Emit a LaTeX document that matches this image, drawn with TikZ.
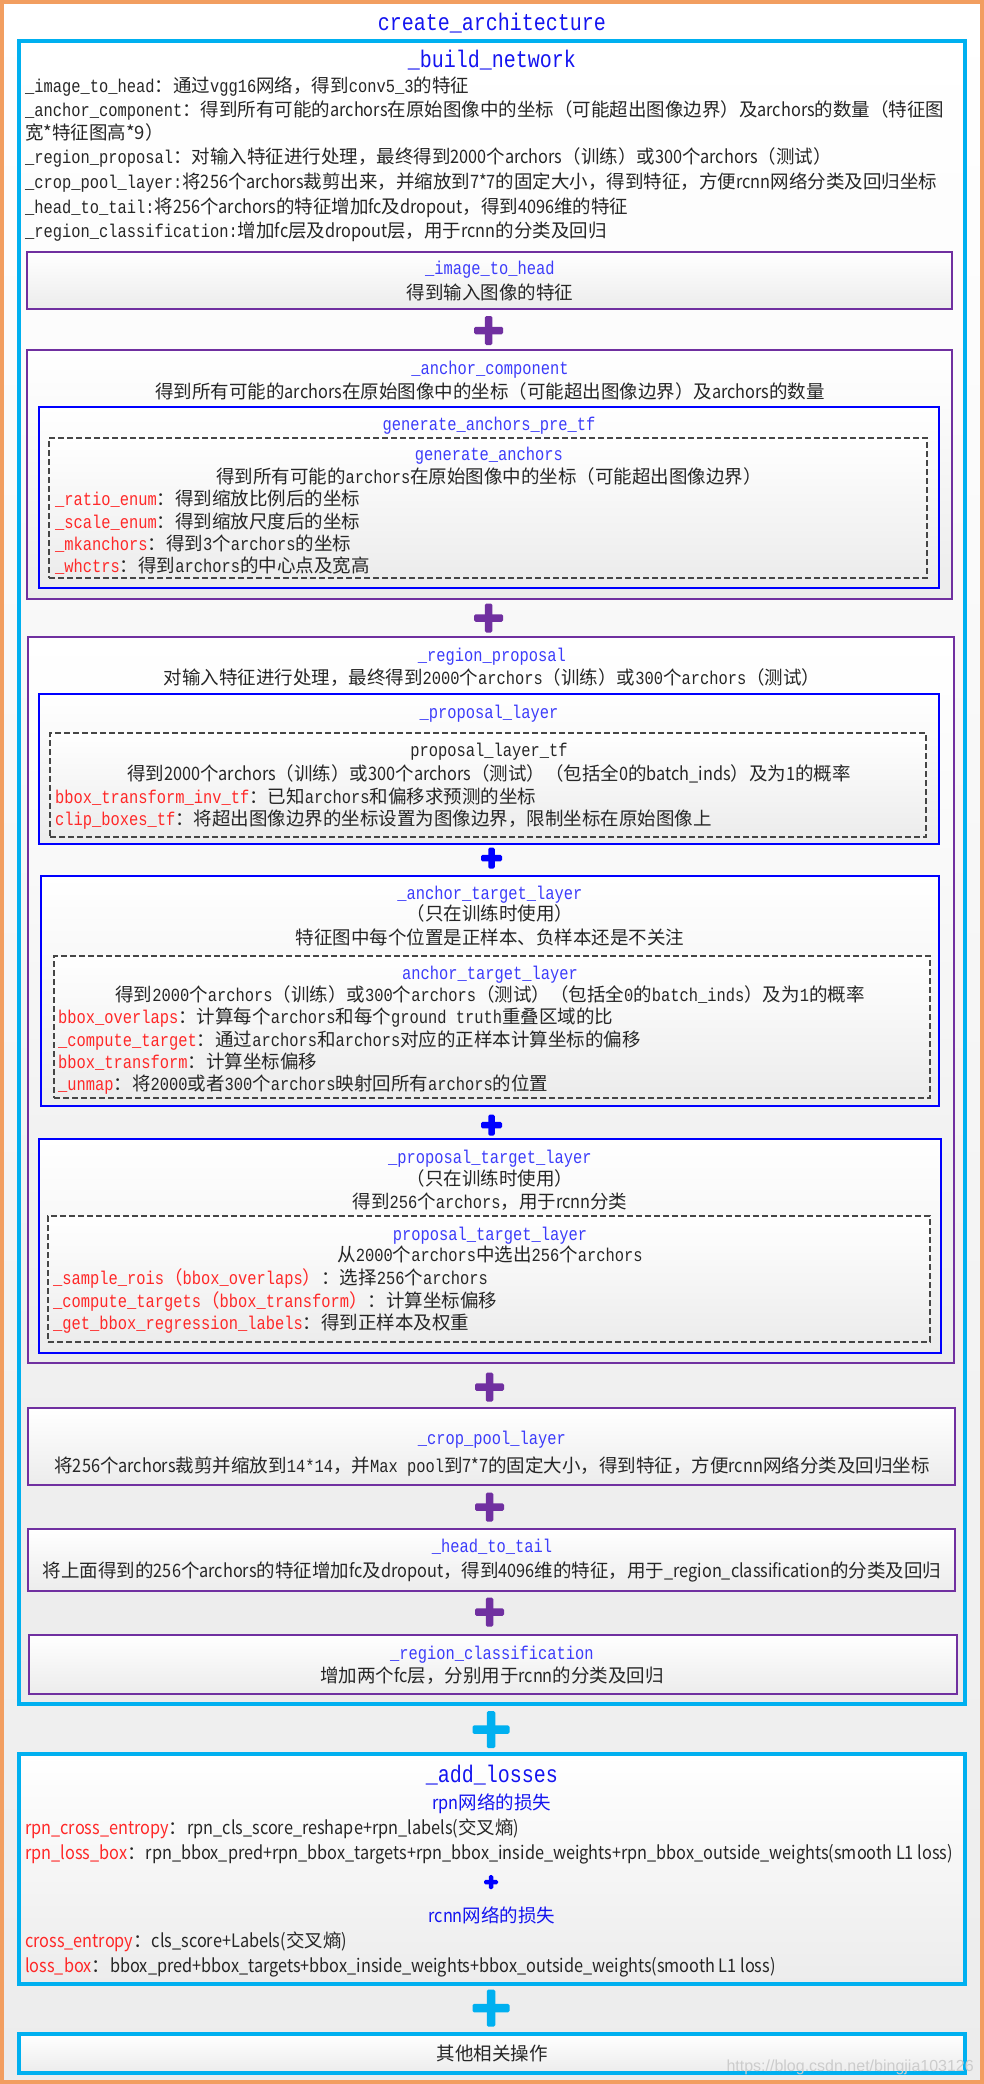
\documentclass[tikz,border=0pt]{standalone}
\usepackage{fontspec}
\usetikzlibrary{fit}
\setmainfont{Noto Sans CJK SC}
\newfontfamily\mon[FakeStretch=0.8333]{Liberation Mono}
\newfontfamily\snl[FakeStretch=0.88]{Noto Sans CJK SC}
\newfontfamily\wmfont{Liberation Sans}
\definecolor{orangeC}{RGB}{242,158,96}
\definecolor{cyanC}{RGB}{0,176,240}
\definecolor{purpleC}{RGB}{112,48,160}
\definecolor{blueC}{RGB}{0,0,255}
\definecolor{titleBlue}{RGB}{20,20,240}
\definecolor{subBlue}{RGB}{60,60,250}
\definecolor{redC}{RGB}{255,40,40}
\definecolor{textC}{RGB}{38,38,38}
\definecolor{dashC}{RGB}{70,70,70}
\definecolor{bgGrey}{RGB}{236,236,236}
\newcommand\bfnt{\fontsize{18.5pt}{22pt}\selectfont}
\newcommand\bigfnt{\fontsize{24pt}{28pt}\selectfont}
\newcommand\mtx[1]{{\mon #1}}
\newcommand\stx[1]{{\snl #1}}
\newcommand\redt[1]{\textcolor{redC}{#1}}
\newcommand\plussign[5]{%
  \fill[#5,rounded corners=1.5pt] ({#1-#3/2},{#2-#4/2}) rectangle ({#1+#3/2},{#2+#4/2});
  \fill[#5,rounded corners=1.5pt] ({#1-#4/2},{#2-#3/2}) rectangle ({#1+#4/2},{#2+#3/2});
}
\tikzset{
  boxbase/.style={inner sep=0pt, top color=white, bottom color=bgGrey},
  outerbox/.style={boxbase, draw=orangeC, line width=3.5pt},
  cyanbox/.style={boxbase, draw=cyanC, line width=3.5pt},
  purplebox/.style={boxbase, draw=purpleC, line width=2.5pt},
  bluebox/.style={boxbase, draw=blueC, line width=1.5pt},
  dashbox/.style={boxbase, draw=dashC, line width=1.1pt, dash pattern=on 6pt off 3pt},
  txt/.style={inner sep=0pt, font=\bfnt, text=textC},
  lline/.style={txt, anchor=base west},
  cline/.style={txt, anchor=base},
  ttl/.style={cline, font={\bfnt\mon}, text=subBlue},
  bigttl/.style={cline, font={\bigfnt\mon}, text=titleBlue},
}
\begin{document}
\begin{tikzpicture}[x=1pt,y=-1pt]
\useasboundingbox (0,0) rectangle (984,2084);
% outer
\node[outerbox, fit={(2,2) (982,2082)}] (outer) {};
\node[bigttl] (tarch) at (492,31) {create\_architecture};
% build network
\node[cyanbox, fit={(19,41) (965,1704)}] (build) {};
\node[bigttl] (tbuild) at (492,68) {\_build\_network};
\node[lline] (b1) at (25,93) {\mtx{\_image\_to\_head}：通过\mtx{vgg16}网络，得到\mtx{conv5\_3}的特征};
\node[lline] (b2) at (25,117) {\mtx{\_anchor\_component}：得到所有可能的\stx{archors}在原始图像中的坐标（可能超出图像边界）及\stx{archors}的数量（特征图};
\node[lline] (b3) at (25,140) {宽*特征图高*9）};
\node[lline] (b4) at (25,164) {\mtx{\_region\_proposal}：对输入特征进行处理，最终得到\stx{2000}个\stx{archors}（训练）或\stx{300}个\stx{archors}（测试）};
\node[lline] (b5) at (25,189) {\mtx{\_crop\_pool\_layer:}将\stx{256}个\stx{archors}裁剪出来，并缩放到\stx{7*7}的固定大小，得到特征，方便\stx{rcnn}网络分类及回归坐标};
\node[lline] (b6) at (25,214) {\mtx{\_head\_to\_tail:}将\stx{256}个\stx{archors}的特征增加\stx{fc}及\stx{dropout}，得到\stx{4096}维的特征};
\node[lline] (b7) at (25,238) {\mtx{\_region\_classification:}增加\stx{fc}层及\stx{dropout}层，用于\stx{rcnn}的分类及回归};
% image to head
\node[purplebox, fit={(27,252) (952,309)}] (ith) {};
\node[ttl] (tith) at (490,274) {\_image\_to\_head};
\node[cline] (xith) at (490,299) {得到输入图像的特征};
\plussign{488.5}{330.5}{29}{7.5}{purpleC}
% anchor component
\node[purplebox, fit={(27,350) (952,599)}] (ac) {};
\node[ttl] (tac) at (490,374) {\_anchor\_component};
\node[cline] (xac) at (490,398) {得到所有可能的\stx{archors}在原始图像中的坐标（可能超出图像边界）及\stx{archors}的数量};
\node[bluebox, fit={(39,407) (939,588)}] (gap) {};
\node[ttl] (tgap) at (489,430) {generate\_anchors\_pre\_tf};
\node[dashbox, fit={(49,438) (927,578)}] (ga) {};
\node[ttl] (tga) at (489,460) {generate\_anchors};
\node[cline] (xga) at (489,483) {得到所有可能的\mtx{archors}在原始图像中的坐标（可能超出图像边界）};
\node[lline] (ga1) at (55,505) {\redt{\mtx{\_ratio\_enum}}：得到缩放比例后的坐标};
\node[lline] (ga2) at (55,528) {\redt{\mtx{\_scale\_enum}}：得到缩放尺度后的坐标};
\node[lline] (ga3) at (55,550) {\redt{\mtx{\_mkanchors}}：得到\mtx{3}个\mtx{archors}的坐标};
\node[lline] (ga4) at (55,572) {\redt{\mtx{\_whctrs}}：得到\mtx{archors}的中心点及宽高};
\plussign{488.5}{618}{29}{7.5}{purpleC}
% region proposal
\node[purplebox, fit={(28,637) (954,1363)}] (rp) {};
\node[ttl] (trp) at (492,661) {\_region\_proposal};
\node[cline] (xrp) at (492,684) {对输入特征进行处理，最终得到\mtx{2000}个\mtx{archors}（训练）或\mtx{300}个\mtx{archors}（测试）};
% proposal layer
\node[bluebox, fit={(39,694) (939,844)}] (pl) {};
\node[ttl] (tpl) at (489,718) {\_proposal\_layer};
\node[dashbox, fit={(50,733) (926,837)}] (pltf) {};
\node[ttl, text=textC] (tpltf) at (489,756) {proposal\_layer\_tf};
\node[cline] (xpltf) at (489,780) {得到\stx{2000}个\stx{archors}（训练）或\stx{300}个\stx{archors}（测试）（包括全\stx{0}的\stx{batch\_inds}）及为\stx{1}的概率};
\node[lline] (pl1) at (55,803) {\redt{\mtx{bbox\_transform\_inv\_tf}}：已知\mtx{archors}和偏移求预测的坐标};
\node[lline] (pl2) at (55,825) {\redt{\mtx{clip\_boxes\_tf}}：将超出图像边界的坐标设置为图像边界，限制坐标在原始图像上};
\plussign{491.5}{858}{21}{6.5}{blueC}
% anchor target layer
\node[bluebox, fit={(41,876) (939,1106)}] (atl) {};
\node[ttl] (tatl) at (490,899) {\_anchor\_target\_layer};
\node[cline] (xatl1) at (490,920) {（只在训练时使用）};
\node[cline] (xatl2) at (490,944) {特征图中每个位置是正样本、负样本还是不关注};
\node[dashbox, fit={(54,956) (930,1098)}] (atl2) {};
\node[ttl] (tatl2) at (490,979) {anchor\_target\_layer};
\node[cline] (xatl3) at (490,1001) {得到\mtx{2000}个\mtx{archors}（训练）或\mtx{300}个\mtx{archors}（测试）（包括全\mtx{0}的\mtx{batch\_inds}）及为\mtx{1}的概率};
\node[lline] (at1) at (58,1023) {\redt{\mtx{bbox\_overlaps}}：计算每个\mtx{archors}和每个\mtx{ground truth}重叠区域的比};
\node[lline] (at2) at (58,1046) {\redt{\mtx{\_compute\_target}}：通过\mtx{archors}和\mtx{archors}对应的正样本计算坐标的偏移};
\node[lline] (at3) at (58,1068) {\redt{\mtx{bbox\_transform}}：计算坐标偏移};
\node[lline] (at4) at (58,1090) {\redt{\mtx{\_unmap}}：将\mtx{2000}或者\mtx{300}个\mtx{archors}映射回所有\mtx{archors}的位置};
\plussign{491.5}{1125}{21}{6.5}{blueC}
% proposal target layer
\node[bluebox, fit={(39,1139) (941,1353)}] (ptl) {};
\node[ttl] (tptl) at (490,1163) {\_proposal\_target\_layer};
\node[cline] (xptl1) at (490,1185) {（只在训练时使用）};
\node[cline] (xptl2) at (490,1208) {得到\mtx{256}个\mtx{archors}，用于\stx{rcnn}分类};
\node[dashbox, fit={(48,1216) (930,1342)}] (ptl2) {};
\node[ttl] (tptl2) at (490,1240) {proposal\_target\_layer};
\node[cline] (xptl3) at (490,1261) {从\mtx{2000}个\mtx{archors}中选出\mtx{256}个\mtx{archors}};
\node[lline] (pt1) at (53,1284) {\redt{\mtx{\_sample\_rois}（\mtx{bbox\_overlaps}）}：选择\mtx{256}个\mtx{archors}};
\node[lline] (pt2) at (53,1307) {\redt{\mtx{\_compute\_targets}（\mtx{bbox\_transform}）}：计算坐标偏移};
\node[lline] (pt3) at (53,1329) {\redt{\mtx{\_get\_bbox\_regression\_labels}}：得到正样本及权重};
\plussign{489.5}{1387}{29}{7.5}{purpleC}
% crop pool layer
\node[purplebox, fit={(28,1408) (955,1485)}] (cpl) {};
\node[ttl] (tcpl) at (492,1444) {\_crop\_pool\_layer};
\node[cline] (xcpl) at (492,1472) {将\stx{256}个\stx{archors}裁剪并缩放到\mtx{14*14}，并\mtx{Max pool}到\stx{7*7}的固定大小，得到特征，方便\stx{rcnn}网络分类及回归坐标};
\plussign{489.5}{1507}{29}{7.5}{purpleC}
% head to tail
\node[purplebox, fit={(28,1529) (955,1591)}] (htt) {};
\node[ttl] (thtt) at (492,1552) {\_head\_to\_tail};
\node[cline] (xhtt) at (492,1577) {将上面得到的\stx{256}个\stx{archors}的特征增加\stx{fc}及\stx{dropout}，得到\stx{4096}维的特征，用于\stx{\_region\_classification}的分类及回归};
\plussign{489.5}{1612}{29}{7.5}{purpleC}
% region classification
\node[purplebox, fit={(29,1635) (957,1694)}] (rc) {};
\node[ttl] (trc) at (492,1659) {\_region\_classification};
\node[cline] (xrc) at (492,1682) {增加两个\stx{fc}层，分别用于\stx{rcnn}的分类及回归};
\plussign{491}{1729.5}{37}{8.5}{cyanC}
% add losses
\node[cyanbox, fit={(19,1754) (965,1984)}] (al) {};
\node[bigttl] (tal) at (492,1782) {\_add\_losses};
\node[cline, text=titleBlue] (rpnl) at (492,1809) {\stx{rpn}网络的损失};
\node[lline] (al1) at (25,1834) {\redt{\stx{rpn\_cross\_entropy}}：\stx{rpn\_cls\_score\_reshape+rpn\_labels(}交叉熵\stx{)}};
\node[lline] (al2) at (25,1859) {\redt{\stx{rpn\_loss\_box}}：\stx{rpn\_bbox\_pred+rpn\_bbox\_targets+rpn\_bbox\_inside\_weights+rpn\_bbox\_outside\_weights(smooth L1 loss)}};
\plussign{491}{1882}{14}{4.5}{blueC}
\node[cline, text=titleBlue] (rcnnl) at (492,1922) {\stx{rcnn}网络的损失};
\node[lline] (al3) at (25,1947) {\redt{\stx{cross\_entropy}}：\stx{cls\_score+Labels(}交叉熵\stx{)}};
\node[lline] (al4) at (25,1972) {\redt{\stx{loss\_box}}：\stx{bbox\_pred+bbox\_targets+bbox\_inside\_weights+bbox\_outside\_weights(smooth L1 loss)}};
\plussign{491}{2008}{37}{8.5}{cyanC}
% other
\node[cyanbox, fit={(19,2034) (965,2073)}] (oth) {};
\node[cline] (xoth) at (492,2060) {其他相关操作};
\node[inner sep=0pt, anchor=base east, font={\fontsize{16pt}{18pt}\selectfont\wmfont}, text=gray!40] (wm) at (974,2071) {https://blog.csdn.net/bingjia103126};
\end{tikzpicture}
\end{document}
